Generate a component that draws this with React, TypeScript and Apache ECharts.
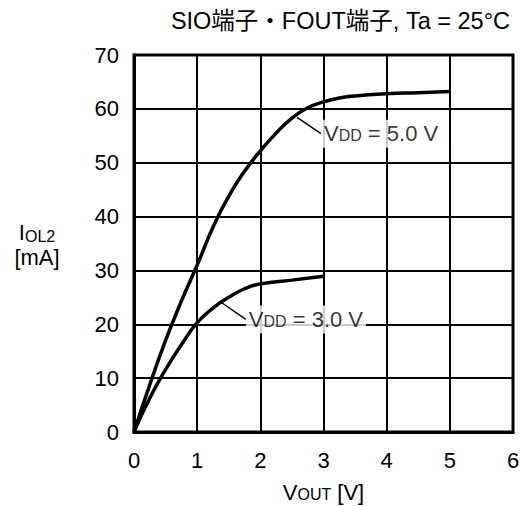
import React, { useEffect, useRef } from "react";
import * as echarts from "echarts";

const titleText = "SIO端子・FOUT端子, Ta = 25°C";
const xTicks = [0, 1, 2, 3, 4, 5, 6];
const yTicks = [0, 10, 20, 30, 40, 50, 60, 70];

const v5X = [0, 0.25, 0.5, 0.75, 1, 1.25, 1.5, 1.75, 2, 2.25, 2.5, 2.75, 3, 3.25, 3.5, 4, 4.5, 5];
const v5Y = [0, 8.8, 17, 24.3, 31, 38, 43.8, 48.4, 52.2, 55.5, 58.3, 60.2, 61.3, 62.0, 62.4, 62.8, 63.0, 63.2];

const v3X = [0, 0.25, 0.5, 0.75, 1, 1.25, 1.5, 1.75, 2, 2.5, 3];
const v3Y = [0, 6.3, 11.6, 16.2, 20.3, 23, 25, 26.6, 27.5, 28.2, 28.9];

const label5Leader = [[2.58, 58.4], [2.96, 55.4]];
const label3Leader = [[1.39, 24.0], [1.77, 20.9]];

const FONT = "'Liberation Sans', Arial, 'Noto Sans CJK JP', sans-serif";

export default function App() {
  const ref = useRef<HTMLDivElement>(null);
  useEffect(() => {
    if (!ref.current) return;
    const chart = echarts.init(ref.current, null, { renderer: "svg" });
    const black = "#000";
    const labelRich = {
      n: { fontSize: 22, fontFamily: FONT, color: black },
      s: { fontSize: 16, fontFamily: FONT, color: black, verticalAlign: "bottom", padding: [0, 0, 1, 0] },
    };
    const mkLabelSeries = (pt: number[], text: string) => ({
      type: "scatter",
      data: [pt],
      symbolSize: 0,
      silent: true,
      z: 5,
      label: {
        show: true,
        position: "right",
        distance: 0,
        formatter: text,
        backgroundColor: "#fff",
        padding: [3, 3, 3, 3],
        rich: labelRich,
      },
    });
    chart.setOption({
      animation: false,
      textStyle: { fontFamily: FONT },
      title: {
        text: titleText,
        right: 8,
        top: 4,
        textStyle: { fontSize: 23.5, fontWeight: "normal", color: black, fontFamily: FONT },
      },
      grid: {
        left: 134,
        right: 10,
        top: 55,
        bottom: 74,
        show: true,
        borderColor: black,
        borderWidth: 3,
        containLabel: false,
        outerBoundsMode: "none",
      },
      xAxis: {
        type: "value",
        min: xTicks[0],
        max: xTicks[xTicks.length - 1],
        interval: 1,
        name: "V{s|OUT} [V]",
        nameLocation: "middle",
        nameGap: 60,
        nameTextStyle: {
          fontSize: 22,
          color: black,
          fontFamily: FONT,
          verticalAlign: "middle",
          rich: {
            s: { fontSize: 16, color: black, fontFamily: FONT, verticalAlign: "bottom", padding: [0, 0, 1, 0] },
          },
        },
        axisLine: { show: true, lineStyle: { color: black, width: 3 } },
        axisTick: { show: false },
        axisLabel: { fontSize: 22, color: black, margin: 17, fontFamily: FONT },
        splitLine: { show: true, lineStyle: { color: black, width: 2 } },
      },
      yAxis: {
        type: "value",
        min: yTicks[0],
        max: yTicks[yTicks.length - 1],
        interval: 10,
        name: "I{s|OL2}\n[mA]",
        nameLocation: "middle",
        nameRotate: 0,
        nameGap: 97,
        nameTextStyle: {
          fontSize: 22,
          color: black,
          fontFamily: FONT,
          align: "center",
          verticalAlign: "middle",
          lineHeight: 25,
          padding: [2, 0, 0, 0],
          rich: {
            s: { fontSize: 16, color: black, fontFamily: FONT, verticalAlign: "bottom", lineHeight: 25 },
          },
        },
        axisLine: { show: true, lineStyle: { color: black, width: 3 } },
        axisTick: { show: false },
        axisLabel: { fontSize: 22, color: black, margin: 15, fontFamily: FONT },
        splitLine: { show: true, lineStyle: { color: black, width: 2 } },
      },
      series: [
        {
          type: "line",
          data: v5X.map((x, i) => [x, v5Y[i]]),
          smooth: 0.5,
          showSymbol: false,
          lineStyle: { color: black, width: 3.5 },
          z: 3,
        },
        {
          type: "line",
          data: v3X.map((x, i) => [x, v3Y[i]]),
          smooth: 0.5,
          showSymbol: false,
          lineStyle: { color: black, width: 3.5 },
          z: 3,
        },
        {
          type: "line",
          data: label5Leader,
          showSymbol: false,
          lineStyle: { color: black, width: 1.5 },
          z: 3,
        },
        {
          type: "line",
          data: label3Leader,
          showSymbol: false,
          lineStyle: { color: black, width: 1.5 },
          z: 3,
        },
        mkLabelSeries(label5Leader[1], "{n|V}{s|DD}{n| = 5.0 V}"),
        mkLabelSeries(label3Leader[1], "{n|V}{s|DD}{n| = 3.0 V}"),
      ],
    });
    return () => chart.dispose();
  }, []);
  return (
    <div
      ref={ref}
      style={{ position: "absolute", left: 0, top: 0, width: 523, height: 506 }}
    />
  );
}
